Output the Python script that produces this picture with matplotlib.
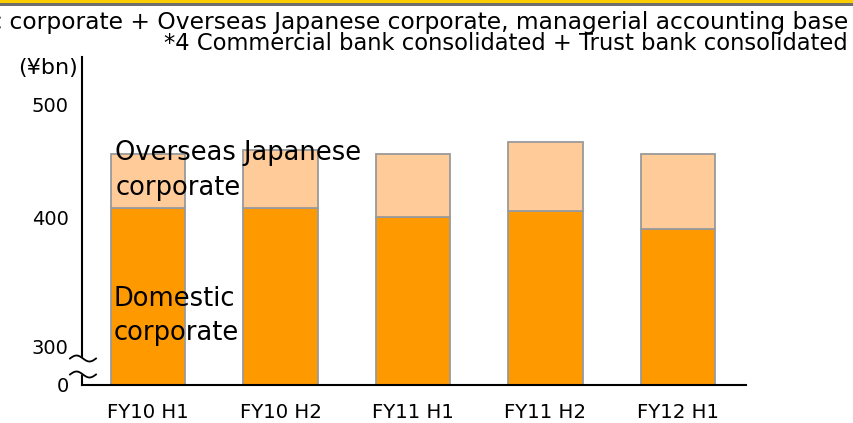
import numpy as np
import matplotlib.pyplot as plt
from matplotlib.patches import Rectangle

#------------------------------------------------------------------------------
# Data
#------------------------------------------------------------------------------
periods  = ['FY10 H1', 'FY10 H2', 'FY11 H1', 'FY11 H2', 'FY12 H1']
domestic = [409.0, 409.0, 401.0, 406.0, 390.0]
overseas = [47.5, 51.0, 55.5, 61.0, 66.5]

ytick_pos    = [252.6, 286.7, 400, 500]
ytick_labels = ['0', '300', '400', '500']

note1 = 'Domestic corporate + Overseas Japanese corporate, managerial accounting base'
note2 = '*4 Commercial bank consolidated + Trust bank consolidated'

c_dom  = '#FF9900'
c_ovs  = '#FFCC99'
c_edge = '#9A9A9A'

#------------------------------------------------------------------------------
# Figure
#------------------------------------------------------------------------------
plt.rcParams['font.family'] = 'DejaVu Sans'
W, H = 854, 423
fig = plt.figure(figsize=(W / 100, H / 100), dpi=100)

# top banner
fig.patches.append(Rectangle((0, 1 - 3.5 / H), 1, 3.5 / H, transform=fig.transFigure,
                             facecolor='#FFCC00', edgecolor='none'))
fig.patches.append(Rectangle((0, 1 - 6 / H), 1, 2.5 / H, transform=fig.transFigure,
                             facecolor='#6E6E6E', edgecolor='none'))

fig.text(848 / W, 1 - 22 / H, note1, ha='right', va='center', fontsize=16.8)
fig.text(848 / W, 1 - 43 / H, note2, ha='right', va='center', fontsize=16.3)
fig.text(78 / W, 1 - 68 / H, '(¥bn)', ha='right', va='center', fontsize=16)

top_px = 57
ax = fig.add_axes([82.5 / W, (H - 385) / H, (745.7 - 82.5) / W, (385 - top_px) / H])

x = np.arange(len(periods))
ax.bar(x, domestic, width=0.56, color=c_dom, edgecolor=c_edge, linewidth=1.3, zorder=2)
ax.bar(x, overseas, width=0.56, bottom=domestic, color=c_ovs, edgecolor=c_edge,
       linewidth=1.3, zorder=2)

ax.set_xlim(-0.494, 4.511)
ax.set_ylim(252.2, 400 + (218 - top_px) / 1.13)
ax.set_xticks(x)
ax.set_xticklabels(periods, fontsize=14.2)
ax.set_yticks(ytick_pos)
ax.set_yticklabels(ytick_labels, fontsize=14)
ax.tick_params(axis='both', length=0)
ax.tick_params(axis='y', pad=10)
ax.tick_params(axis='x', pad=13)

for s in ['top', 'right']:
    ax.spines[s].set_visible(False)
for s in ['left', 'bottom']:
    ax.spines[s].set_linewidth(1.5)
    ax.spines[s].set_color('black')

# series labels
ax.text(-0.245, 442.0, 'Overseas Japanese\ncorporate', ha='left', va='center',
        fontsize=18.5, linespacing=1.42, zorder=3)
ax.text(-0.26, 313.0, 'Domestic\ncorporate', ha='left', va='center',
        fontsize=18.5, linespacing=1.42, zorder=3)

# axis break marks (in axes fraction, sized from pixels)
aw = (745.7 - 82.5)
ah = (385 - top_px)
t = np.linspace(0, 1, 60)
bx = (70 - 82.5 + t * 26) / aw
w1 = (385 - (358.5 - 3 * np.sin(2 * np.pi * t))) / ah
w2 = (385 - (374.5 - 3 * np.sin(2 * np.pi * t))) / ah
ax.fill_between(bx, w1, w2, color='white', transform=ax.transAxes, clip_on=False, zorder=4)
ax.plot(bx, w1, color='black', lw=1.3, transform=ax.transAxes, clip_on=False, zorder=5)
ax.plot(bx, w2, color='black', lw=1.3, transform=ax.transAxes, clip_on=False, zorder=5)

fig.savefig('out.png', dpi=100)
